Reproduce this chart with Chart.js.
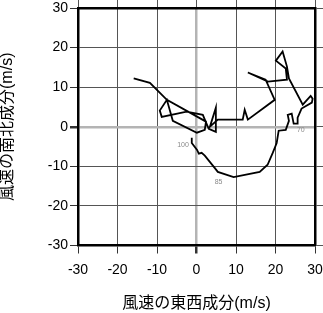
<!DOCTYPE html>
<html><head><meta charset="utf-8">
<script src="https://cdn.jsdelivr.net/npm/chart.js@4"></script>
<style>html,body{margin:0;padding:0;background:#fff}canvas{display:block}</style>
</head><body>
<canvas id="c" width="323" height="313"></canvas>
<script>
// Hodograph: east-west (u) and north-south (v) wind components, m/s
const uData = [-1.2,-1.2,0.1,0.6,1.3,2.1,4.6,5.4,9.4,16.0,18.0,19.3,20.3,20.8,22.6,23.4,23.1,24.1,24.6,25.6,25.6,26.6,29.2,29.4,28.9,26.9,23.4,22.9,21.8,20.1,22.6,22.9,18.1,13.0,17.5,19.8,13.0,12.2,11.7,5.4,3.4,4.9,4.9,3.1,1.6,-2.5,-8.8,-9.3,-7.5,-6.0,0.1,2.1,2.4,-7.5,-11.8,-15.9];
const vData = [-2.8,-4.1,-5.8,-6.8,-6.6,-7.3,-10.4,-11.4,-12.7,-11.4,-9.6,-6.6,-4.1,-1.0,-0.8,1.5,3.0,3.3,0.8,0.8,2.3,4.6,6.1,7.1,7.8,5.6,12.2,15.2,19.0,16.7,14.7,11.9,11.4,13.7,11.9,6.8,1.8,4.3,1.8,1.8,0.0,4.8,-1.3,-0.5,3.0,3.8,2.5,4.1,6.8,1.5,-1.5,-0.8,1.3,6.8,11.1,12.2];
const tickValues = [-30,-20,-10,0,10,20,30];
const labelTexts = ['100','85','70'];
const labelU = [-3.4, 5.6, 26.4];
const labelV = [-4.6, -13.9, -0.8];
const xTitle = '風速の東西成分(m/s)';
const yTitle = '風速の南北成分(m/s)';

const points = uData.map((u,i)=>({x:u, y:vData[i]}));
const FAM = "'Liberation Sans', 'Noto Sans CJK JP', sans-serif";

const gridColor = ctx => (ctx.tick && ctx.tick.value === 0) ? '#b4b4b4' : '#555';
const gridWidth = ctx => (ctx.tick && ctx.tick.value === 0) ? 2.5 : 1;

const levelLabels = {
  id:'levelLabels',
  afterDatasetsDraw(chart){
    const {ctx, scales:{x,y}} = chart;
    ctx.save();
    ctx.font = "7px 'Liberation Sans'";
    ctx.fillStyle = '#8a8a8a';
    ctx.textAlign = 'center';
    ctx.textBaseline = 'middle';
    labelTexts.forEach((t,i)=>ctx.fillText(t, x.getPixelForValue(labelU[i]), y.getPixelForValue(labelV[i])));
    ctx.restore();
  }
};

function zeroPad(s){ s.paddingLeft = 0; s.paddingRight = 0; s.paddingTop = 0; s.paddingBottom = 0; }

function mainAxis(pos, title){
  const horiz = pos === 'bottom';
  return {
    type:'linear', position:pos, min:tickValues[0], max:tickValues[tickValues.length-1],
    afterBuildTicks: s => { s.ticks = tickValues.map(v=>({value:v})); },
    ticks:{color:'#000', font:{family:FAM, size:14}, padding: horiz ? 8 : 2, maxRotation:0, autoSkip:false},
    grid:{color:gridColor, lineWidth:gridWidth, tickColor:'#333', tickLength:8},
    border:{display:true, color:'#000', width:2.5},
    title:{display:true, text:title, color:'#000', font:{family:FAM, size:16, lineHeight:1}, padding: horiz ? {top:0,bottom:1} : {top:0,bottom:0}},
    afterFit: s => { zeroPad(s); if (horiz) s.height = 67.5; else s.width = 78; }
  };
}
function sideAxis(pos){
  const horiz = pos === 'top';
  return {
    type:'linear', position:pos, min:tickValues[0], max:tickValues[tickValues.length-1],
    afterBuildTicks: s => { s.ticks = tickValues.map(v=>({value:v})); },
    ticks:{display:false},
    grid:{drawOnChartArea:false, color:'#555', tickColor:'#555', tickLength:8},
    border:{display:true, color:'#000', width:2.5},
    afterFit: s => { zeroPad(s); if (horiz) s.height = 8; else s.width = 8; }
  };
}

new Chart(document.getElementById('c'), {
  type:'scatter',
  data:{datasets:[{data:points, showLine:true, borderColor:'#000', borderWidth:1.8, pointRadius:0, fill:false, tension:0, xAxisID:'x', yAxisID:'y'}]},
  options:{
    responsive:false, animation:false, devicePixelRatio:1,
    layout:{padding:0},
    plugins:{legend:{display:false}, tooltip:{enabled:false}},
    scales:{
      x: mainAxis('bottom', xTitle),
      y: mainAxis('left', yTitle),
      x2: sideAxis('top'),
      y2: sideAxis('right')
    }
  },
  plugins:[levelLabels]
});
</script>
</body></html>
